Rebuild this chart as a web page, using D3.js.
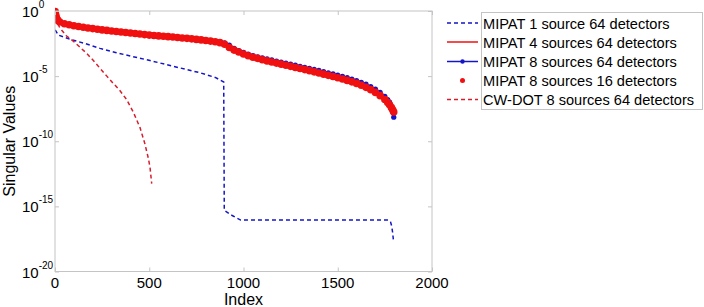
<!DOCTYPE html>
<html><head><meta charset="utf-8">
<script src="https://cdn.jsdelivr.net/npm/d3@7"></script>
<style>body{margin:0;background:#fff;}svg{display:block;font-family:"Liberation Sans",Arial,sans-serif;}</style>
</head><body>
<svg id="c" width="704" height="307"></svg>
<script>
// ---------------- DATA (log10 of singular values) ----------------
const xTicks = [0, 500, 1000, 1500, 2000];
const yTickExps = [0, -5, -10, -15, -20];
const seriesNames = ["MIPAT 1 source 64 detectors","MIPAT 4 sources 64 detectors","MIPAT 8 sources 64 detectors","MIPAT 8 sources 16 detectors","CW-DOT 8 sources 64 detectors"];

const mipat1Idx = [1, 18, 80, 160, 239, 320, 400, 504, 600, 700, 769, 850, 895, 898, 940, 985, 1200, 1500, 1768, 1780, 1786, 1791, 1795];
const mipat1Log = [-1.45, -1.85, -2.17, -2.5, -2.87, -3.18, -3.46, -3.8, -4.15, -4.5, -4.74, -5.1, -5.45, -15.3, -15.7, -16.05, -16.05, -16.05, -16.05, -16.2, -16.5, -17.0, -17.55];

const mainIdx = [1,3,6,10,15,25,50,75,100,125,150,175,200,225,250,275,300,325,350,375,400,425,450,475,500,525,550,575,600,625,650,675,700,725,750,775,800,825,850,875,900,925,950,975,1000,1025,1050,1075,1100,1125,1150,1175,1200,1225,1250,1275,1300,1325,1350,1375,1400,1425,1450,1475,1500,1525,1550,1575,1600,1625,1650,1675,1700,1725,1750,1765,1775,1785,1792,1797];

const mipat8x16Log = [-0.05,-0.25,-0.45,-0.6,-0.72,-0.85,-0.98,-1.06,-1.13,-1.19,-1.25,-1.3,-1.35,-1.4,-1.45,-1.49,-1.53,-1.57,-1.61,-1.65,-1.69,-1.73,-1.77,-1.81,-1.85,-1.88,-1.91,-1.94,-1.97,-2.0,-2.03,-2.07,-2.1,-2.14,-2.18,-2.22,-2.26,-2.31,-2.36,-2.43,-2.55,-2.8,-3.0,-3.15,-3.3,-3.43,-3.55,-3.64,-3.74,-3.83,-3.92,-4.0,-4.08,-4.17,-4.25,-4.34,-4.42,-4.5,-4.58,-4.67,-4.76,-4.85,-4.94,-5.03,-5.12,-5.22,-5.33,-5.44,-5.56,-5.7,-5.86,-6.04,-6.25,-6.5,-6.8,-7.02,-7.2,-7.42,-7.6,-7.75];

const mipat8x64Log = [-0.05,-0.25,-0.45,-0.6,-0.72,-0.85,-0.98,-1.06,-1.13,-1.19,-1.25,-1.3,-1.35,-1.4,-1.45,-1.49,-1.53,-1.57,-1.61,-1.65,-1.69,-1.73,-1.77,-1.81,-1.85,-1.88,-1.91,-1.94,-1.97,-2.0,-2.03,-2.07,-2.1,-2.14,-2.18,-2.22,-2.26,-2.31,-2.36,-2.4,-2.45,-2.62,-2.86,-3.04,-3.18,-3.3,-3.42,-3.52,-3.6,-3.68,-3.76,-3.84,-3.92,-4.0,-4.08,-4.16,-4.24,-4.32,-4.4,-4.48,-4.56,-4.65,-4.74,-4.83,-4.92,-5.02,-5.12,-5.22,-5.34,-5.47,-5.62,-5.8,-6.0,-6.25,-6.56,-6.8,-7.0,-7.35,-7.75,-8.15];

const mipat4x64Log = [-0.05,-0.25,-0.45,-0.6,-0.72,-0.85,-0.98,-1.06,-1.13,-1.19,-1.25,-1.3,-1.35,-1.4,-1.45,-1.49,-1.53,-1.57,-1.61,-1.65,-1.69,-1.73,-1.77,-1.81,-1.85,-1.88,-1.91,-1.94,-1.97,-2.0,-2.02,-2.05,-2.08,-2.1,-2.13,-2.16,-2.19,-2.23,-2.27,-2.33,-2.42,-2.7,-2.95,-3.12,-3.27,-3.4,-3.52,-3.62,-3.71,-3.8,-3.89,-3.97,-4.05,-4.14,-4.22,-4.31,-4.39,-4.47,-4.55,-4.64,-4.73,-4.82,-4.91,-5.0,-5.09,-5.19,-5.3,-5.41,-5.53,-5.67,-5.83,-6.01,-6.22,-6.47,-6.77,-7.0,-7.18,-7.4,-7.55,-7.65];

const cwdotIdx = [1, 10, 26, 60, 100, 130, 168, 200, 239, 275, 309, 345, 380, 415, 451, 477, 495, 504, 513];
const cwdotLog = [-0.5, -0.85, -1.3, -1.9, -2.35, -2.75, -3.25, -3.75, -4.4, -5.0, -5.55, -6.12, -6.8, -7.75, -8.95, -10.2, -11.3, -12.0, -13.25];

// ---------------- CHART ----------------
const svg = d3.select("#c");
const L = 55, R = 432, T = 11, B = 271.5;
const x = d3.scaleLinear().domain([0, 2000]).range([L, R]);
const y = d3.scaleLog().domain([1e-20, 1]).range([B, T]);
const blue = "#1515c8", red = "#f01010", darkred = "#d81c2c", axisCol = "#c4c4c4";

const toPts = (idx, lg) => idx.map((d, i) => [d, Math.pow(10, lg[i])]);
const line = d3.line().x(d => x(d[0])).y(d => y(d[1]));

svg.append("clipPath").attr("id","cp").append("rect").attr("x",L).attr("y",T-5).attr("width",R-L+5).attr("height",B-T+10);
const plot = svg.append("g").attr("clip-path","url(#cp)");

// MIPAT 1 source (blue dashed)
plot.append("path").attr("d", line(toPts(mipat1Idx, mipat1Log)))
  .attr("fill","none").attr("stroke",blue).attr("stroke-width",1.5).attr("stroke-dasharray","4,3");
// MIPAT 4 sources (red solid)
plot.append("path").attr("d", line(toPts(mainIdx, mipat4x64Log)))
  .attr("fill","none").attr("stroke",red).attr("stroke-width",1.5);
// MIPAT 8 sources 64 det (blue line with dots)
const p864 = toPts(mainIdx, mipat8x64Log);
plot.append("path").attr("d", line(p864)).attr("fill","none").attr("stroke",blue).attr("stroke-width",2);
plot.selectAll("circle.b").data(p864).enter().append("circle").attr("class","b")
  .attr("cx", d => x(d[0])).attr("cy", d => y(d[1])).attr("r", 2.6).attr("fill", blue);
// MIPAT 8 sources 16 det (red dots)
const p816 = toPts(mainIdx, mipat8x16Log);
plot.selectAll("circle.r").data(p816).enter().append("circle").attr("class","r")
  .attr("cx", d => x(d[0])).attr("cy", d => y(d[1])).attr("r", 3.8).attr("fill", red);
// CW-DOT (dark red dashed)
plot.append("path").attr("d", line(toPts(cwdotIdx, cwdotLog)))
  .attr("fill","none").attr("stroke",darkred).attr("stroke-width",1.5).attr("stroke-dasharray","4,3");

// axes box
svg.append("rect").attr("x",L).attr("y",T).attr("width",R-L).attr("height",B-T)
  .attr("fill","none").attr("stroke",axisCol).attr("stroke-width",1);
const axB = svg.append("g").attr("transform",`translate(0,${B})`)
  .call(d3.axisBottom(x).tickValues(xTicks).tickSize(-4).tickFormat(""));
const axT = svg.append("g").attr("transform",`translate(0,${T})`)
  .call(d3.axisTop(x).tickValues(xTicks).tickSize(-4).tickFormat(""));
const yVals = yTickExps.map(e => Math.pow(10, e));
const axL = svg.append("g").attr("transform",`translate(${L},0)`)
  .call(d3.axisLeft(y).tickValues(yVals).tickSize(-4).tickFormat(""));
const axR = svg.append("g").attr("transform",`translate(${R},0)`)
  .call(d3.axisRight(y).tickValues(yVals).tickSize(-4).tickFormat(""));
[axB, axT, axL, axR].forEach(a => { a.select(".domain").remove(); a.selectAll("line").attr("stroke", axisCol); });

// x tick labels
svg.selectAll("text.xt").data(xTicks).enter().append("text").attr("class","xt")
  .attr("x", d => x(d)).attr("y", 288).attr("text-anchor","middle")
  .attr("font-size", 15).attr("fill","#000").text(d => d);
// y tick labels
yTickExps.forEach(e => {
  const yy = y(Math.pow(10, e));
  const t = svg.append("text").attr("x", 22).attr("y", yy + 6).attr("font-size", 15).attr("fill","#000");
  t.append("tspan").text("10");
  t.append("tspan").attr("dy", -9).attr("font-size", 10).text(String(e));
});
// axis titles
svg.append("text").attr("x", x(1000)).attr("y", 305).attr("text-anchor","middle").attr("font-size",16).text("Index");
svg.append("text").attr("transform", `translate(15,${(T+B)/2}) rotate(-90)`).attr("text-anchor","middle").attr("font-size",16).text("Singular Values");

// legend
const lg = svg.append("g");
lg.append("rect").attr("x",481.5).attr("y",12.5).attr("width",221).attr("height",97).attr("fill","#fff").attr("stroke",axisCol);
const rowsY = [23, 42, 61.5, 80.5, 99.5];
const styles = [
  {c: blue, dash: "4,3", line: true, dot: false},
  {c: red, dash: null, line: true, dot: false},
  {c: blue, dash: null, line: true, dot: true},
  {c: red, dash: null, line: false, dot: true},
  {c: darkred, dash: "4,3", line: true, dot: false}
];
seriesNames.forEach((n, i) => {
  const s = styles[i], yy = rowsY[i];
  if (s.line) lg.append("line").attr("x1",447).attr("x2",478).attr("y1",yy).attr("y2",yy)
    .attr("stroke", s.c).attr("stroke-width",1.5).attr("stroke-dasharray", s.dash);
  if (s.dot) lg.append("circle").attr("cx",462.5).attr("cy",yy).attr("r", i === 3 ? 2.5 : 2.2).attr("fill", s.c);
  lg.append("text").attr("x",483).attr("y",yy+5.5).attr("font-size",14.6).attr("fill","#000").text(n);
});
</script>
</body></html>
